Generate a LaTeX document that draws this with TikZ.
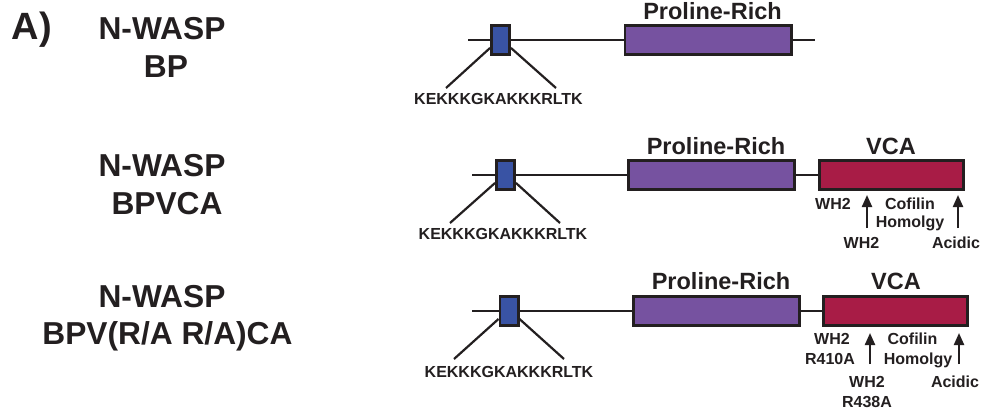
\documentclass[tikz,border=0pt]{standalone}
\usepackage{fontspec}
\setmainfont{Liberation Sans}
\usetikzlibrary{arrows.meta,calc}

\definecolor{ink}{HTML}{231F20}
\definecolor{basicblue}{HTML}{3953A4}
\definecolor{prolinepurple}{HTML}{7652A0}
\definecolor{vcared}{HTML}{A81C46}

\begin{document}
\begin{tikzpicture}[x=1pt,y=-1pt,
  regionbox/.style={draw=ink, line width=2.6pt, minimum height=29.4pt, inner sep=0pt},
  basicbox/.style={regionbox, fill=basicblue, minimum width=18.4pt},
  prolinebox/.style={regionbox, fill=prolinepurple, minimum width=166.4pt},
  vcabox/.style={regionbox, fill=vcared, minimum width=144.4pt},
  backbone/.style={draw=ink, line width=2.4pt},
  zoomline/.style={draw=ink, line width=2.2pt},
  marker/.style={draw=ink, line width=2.2pt, -{Triangle[width=10pt,length=12pt]}},
  txt/.style={anchor=base, inner sep=0pt, text=ink},
  construct/.style={txt, font=\bfseries\fontsize{31.7}{38}\selectfont},
  domainname/.style={txt, font=\bfseries\fontsize{23.5}{26}\selectfont},
  seqlabel/.style={txt, font=\bfseries\fontsize{16}{19}\selectfont},
  sitelabel/.style={txt, font=\bfseries\fontsize{16}{20}\selectfont},
]
\fill[white] (0,0) rectangle (982,413);
\useasboundingbox (0,0) rectangle (982,413);

% panel letter and construct names
\node[txt, font=\bfseries\fontsize{38}{40}\selectfont] (panel) at (32,39) {A)};
\node[construct] (n1a) at (162,39) {N-WASP};
\node[construct] (n1b) at (166,77) {BP};
\node[construct] (n2a) at (162,176) {N-WASP};
\node[construct] (n2b) at (167,214) {BPVCA};
\node[construct] (n3a) at (162,307) {N-WASP};
\node[construct] (n3b) at (167.5,344) {BPV(R/A R/A)CA};

% ---------- construct 1: BP ----------
\coordinate (s1) at (468,40);
\coordinate (e1) at (815,40);
\node[basicbox] (b1) at (500.5,40) {};
\node[prolinebox] (p1) at (708,40) {};
\draw[backbone] (s1) -- (b1.west) (b1.east) -- (p1.west) (p1.east) -- (e1);
\node[domainname] (p1t) at (712.5,19) {Proline-Rich};
\coordinate (k1l) at (446,88);
\coordinate (k1r) at (556,88);
\draw[zoomline] ($(b1.south west)!0.25!(b1.north west)$) -- (k1l);
\draw[zoomline] ($(b1.south east)!0.25!(b1.north east)$) -- (k1r);
\node[seqlabel] (seq1) at (498.5,104) {KEKKKGKAKKKRLTK};

% ---------- construct 2: BPVCA ----------
\coordinate (s2) at (472,175);
\node[basicbox] (b2) at (505.5,175) {};
\node[prolinebox] (p2) at (711.5,175) {};
\node[vcabox] (v2) at (891.5,175) {};
\draw[backbone] (s2) -- (b2.west) (b2.east) -- (p2.west) (p2.east) -- (v2.west);
\node[domainname] (p2t) at (716,154) {Proline-Rich};
\node[domainname] (v2t) at (891,154) {VCA};
\coordinate (k2l) at (450,223);
\coordinate (k2r) at (560,223);
\draw[zoomline] ($(b2.south west)!0.25!(b2.north west)$) -- (k2l);
\draw[zoomline] ($(b2.south east)!0.25!(b2.north east)$) -- (k2r);
\node[seqlabel] (seq2) at (503,239) {KEKKKGKAKKKRLTK};
\node[sitelabel] (w2a) at (833,209) {WH2};
\node[sitelabel] (c2a) at (910,209) {Cofilin};
\node[sitelabel] (c2b) at (910,227) {Homolgy};
\node[sitelabel] (w2b) at (861.5,248) {WH2};
\node[sitelabel] (a2) at (956,248) {Acidic};
\coordinate (m2a0) at (867,228);
\coordinate (m2a1) at (867,195);
\coordinate (m2b0) at (958,228);
\coordinate (m2b1) at (958,195);
\draw[marker] (m2a0) -- (m2a1);
\draw[marker] (m2b0) -- (m2b1);

% ---------- construct 3: BPV(R/A R/A)CA ----------
\coordinate (s3) at (472,311);
\node[basicbox] (b3) at (509,311) {};
\node[prolinebox] (p3) at (716.5,311) {};
\node[vcabox] (v3) at (895.5,311) {};
\draw[backbone] (s3) -- (b3.west) (b3.east) -- (p3.west) (p3.east) -- (v3.west);
\node[domainname] (p3t) at (721,289) {Proline-Rich};
\node[domainname] (v3t) at (896,289) {VCA};
\coordinate (k3l) at (454,359);
\coordinate (k3r) at (564,359);
\draw[zoomline] ($(b3.south west)!0.25!(b3.north west)$) -- (k3l);
\draw[zoomline] ($(b3.south east)!0.25!(b3.north east)$) -- (k3r);
\node[seqlabel] (seq3) at (509,377) {KEKKKGKAKKKRLTK};
\node[sitelabel] (w3a) at (832,344) {WH2};
\node[sitelabel] (r3a) at (830,364) {R410A};
\node[sitelabel] (c3a) at (912.5,344) {Cofilin};
\node[sitelabel] (c3b) at (918,364) {Homolgy};
\node[sitelabel] (w3b) at (867,387) {WH2};
\node[sitelabel] (r3b) at (867,407) {R438A};
\node[sitelabel] (a3) at (955,387) {Acidic};
\coordinate (m3a0) at (870,364);
\coordinate (m3a1) at (870,333);
\coordinate (m3b0) at (959,364);
\coordinate (m3b1) at (959,333);
\draw[marker] (m3a0) -- (m3a1);
\draw[marker] (m3b0) -- (m3b1);
\end{tikzpicture}
\end{document}
